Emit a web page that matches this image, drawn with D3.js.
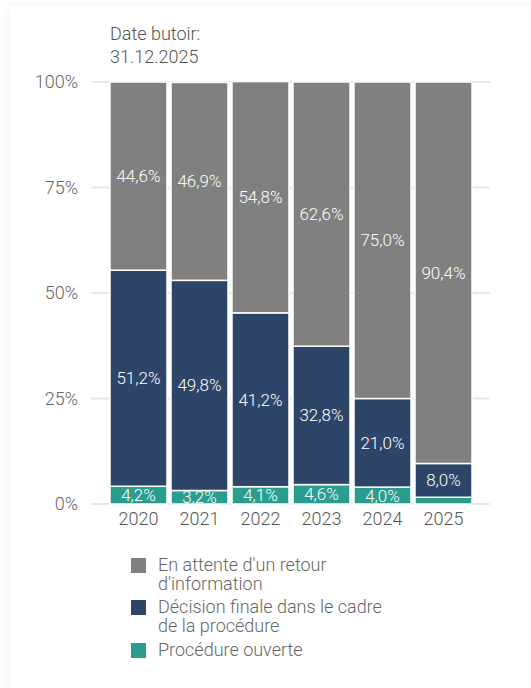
<!DOCTYPE html>
<html>
<head>
<meta charset="utf-8">
<script src="https://cdn.jsdelivr.net/npm/d3@7"></script>
<style>
  html, body { margin: 0; padding: 0; background: #fff; width: 531px; height: 688px; overflow: hidden; }
  .card { position: absolute; left: 10px; top: 6px; width: 540px; height: 700px; background: #fff;
          box-shadow: 0 0 12px rgba(0,0,0,0.07); }
  svg { position: absolute; left: 0; top: 0; font-family: Roboto, "Noto Sans", sans-serif; font-weight: 300; }
</style>
</head>
<body>
<div class="card"></div>
<div id="chart"></div>
<script>
const years = ['2020', '2021', '2022', '2023', '2024', '2025'];
const pending = [44.6, 46.9, 54.8, 62.6, 75.0, 90.4];
const decision = [51.2, 49.8, 41.2, 32.8, 21.0, 8.0];
const opened = [4.2, 3.2, 4.1, 4.6, 4.0, 1.6];
const yTicks = [0, 25, 50, 75, 100];
const seriesNames = ["En attente d'un retour d'information", "Décision finale dans le cadre de la procédure", "Procédure ouverte"];
const legendLines = [["En attente d'un retour", "d'information"], ["Décision finale dans le cadre", "de la procédure"], ["Procédure ouverte"]];
const colors = ['#808080', '#2d4569', '#2a9d8e'];

var width = 531, height = 688;

var svg = d3.select('#chart').append('svg')
  .attr('width', width)
  .attr('height', height);

// stacking order bottom to top: open, decision, pending
var rows = years.map(function(y, i) {
  return {year: y, open: opened[i], decision: decision[i], pending: pending[i]};
});
var keys = ['open', 'decision', 'pending'];
var keyColor = {open: colors[2], decision: colors[1], pending: colors[0]};
var stack = d3.stack().keys(keys)(rows);

var x = d3.scaleBand().domain(years).range([108, 474]).paddingInner(0.0656).paddingOuter(0.0328);
var y = d3.scaleLinear().domain([0, 100]).range([504, 82]);

// title
var title = svg.append('text').attr('x', 110).attr('y', 40).attr('fill', '#555').style('font-size', '18px');
title.append('tspan').attr('x', 110).text('Date butoir:');
title.append('tspan').attr('x', 110).attr('dy', 23).text('31.12.2025');

// grid lines
svg.append('g').selectAll('line').data(yTicks).enter().append('line')
  .attr('x1', 91).attr('x2', 490)
  .attr('y1', function(d) { return y(d); }).attr('y2', function(d) { return y(d); })
  .attr('stroke', '#e8e8e8').attr('stroke-width', 2);

// y tick labels
svg.append('g').selectAll('text').data(yTicks).enter().append('text')
  .attr('x', 78).attr('y', function(d) { return y(d) + 6; })
  .attr('text-anchor', 'end').attr('fill', '#666').style('font-size', '18px')
  .text(function(d) { return d + '%'; });

// bars
var fmt = function(v) { return d3.format('.1f')(v).replace('.', ',') + '%'; };
var groups = svg.append('g').selectAll('g').data(stack).enter().append('g')
  .attr('fill', function(d) { return keyColor[d.key]; });

groups.selectAll('rect').data(function(d) { return d; }).enter().append('rect')
  .attr('x', function(d) { return x(d.data.year); })
  .attr('width', x.bandwidth())
  .attr('y', function(d) { return y(d[1]); })
  .attr('height', function(d) { return y(d[0]) - y(d[1]); })
  .attr('stroke', '#fff').attr('stroke-width', 1.5);

groups.selectAll('text').data(function(d) { return d.filter(function(s) { return s[1] - s[0] >= 3; }); })
  .enter().append('text')
  .attr('x', function(d) { return x(d.data.year) + x.bandwidth() / 2; })
  .attr('y', function(d) { return (y(d[0]) + y(d[1])) / 2 + 6; })
  .attr('text-anchor', 'middle').attr('fill', '#fff').style('font-size', '17px')
  .text(function(d) { return fmt(d[1] - d[0]); });

// x labels
svg.append('g').selectAll('text').data(years).enter().append('text')
  .attr('x', function(d) { return x(d) + x.bandwidth() / 2; })
  .attr('y', 525)
  .attr('text-anchor', 'middle').attr('fill', '#555').style('font-size', '18px')
  .text(function(d) { return d; });

// legend
var legendTop = [558, 600, 643];
var legend = svg.append('g').selectAll('g').data(seriesNames).enter().append('g')
  .attr('transform', function(d, i) { return 'translate(131,' + legendTop[i] + ')'; });
legend.append('rect').attr('width', 15).attr('height', 15)
  .attr('fill', function(d, i) { return colors[i]; });
legend.append('text').attr('fill', '#666').style('font-size', '18px')
  .selectAll('tspan').data(function(d, i) { return legendLines[i]; }).enter().append('tspan')
  .attr('x', 27).attr('y', function(d, j) { return 13 + j * 19; })
  .text(function(d) { return d; });
</script>
</body>
</html>
